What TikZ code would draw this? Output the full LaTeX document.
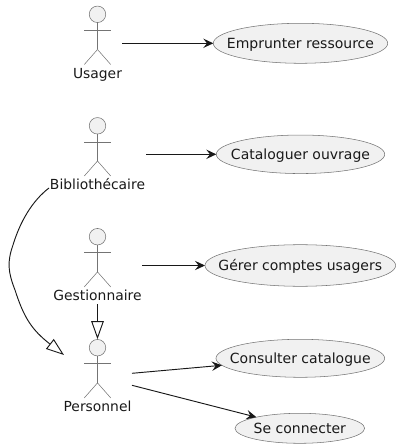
\documentclass[tikz,border=0pt]{standalone}
\usepackage{fontspec}
\setmainfont{DejaVu Sans}
\usetikzlibrary{shapes.geometric,arrows.meta}
\definecolor{ufill}{HTML}{F1F1F1}
\definecolor{uline}{HTML}{181818}
\tikzset{
  x=0.75pt,y=-0.75pt,
  usecase/.style={ellipse,draw=uline!60,line width=0.4pt,fill=ufill,inner sep=0pt,outer sep=0pt,font=\fontsize{10.5pt}{12pt}\selectfont,text=black!90},
  actorhead/.style={circle,draw=uline!60,line width=0.4pt,fill=ufill,inner sep=0pt,minimum size=12.4pt},
  actorline/.style={draw=uline!60,line width=0.4pt},
  actorlabel/.style={inner sep=0pt,font=\fontsize{10.4pt}{12pt}\selectfont,text=black!90,anchor=center,text height=8pt,text depth=2.5pt},
  assoc/.style={draw=uline,line width=0.7pt,-{Stealth[length=7.5pt,width=7pt,inset=2.8pt]}},
  general/.style={draw=uline,line width=0.7pt,-{Triangle[open,length=13.5pt,width=9.4pt,fill=white]}},
}
\newcommand{\uctext}[1]{\smash{\raisebox{-3.6pt}{\makebox[0pt]{#1}}}}
\newcommand{\umlactor}[3]{% name, head y, label
  \node[actorhead] (#1head) at (97.5,#2) {};
  \coordinate (#1hip) at (97.5,#2+35.2);
  \draw[actorline] (#1head.south) -- (#1hip);
  \draw[actorline] (84.3,#2+16) -- (110.7,#2+16);
  \draw[actorline] (84.3,#2+50.2) -- (#1hip) -- (110.7,#2+50.2);
  \node[actorlabel] (#1label) at (97.5,#2+60.4) {#3};
}
\begin{document}
\begin{tikzpicture}
\useasboundingbox (0,0) rectangle (400,448);
\umlactor{usager}{14.3}{Usager}
\umlactor{biblio}{125.8}{Bibliothécaire}
\umlactor{gest}{236.7}{Gestionnaire}
\umlactor{pers}{347.7}{Personnel}
\node[usecase,minimum width=130.8pt,minimum height=30pt] (emprunter) at (300.5,43.3) {\uctext{Emprunter ressource}};
\node[usecase,minimum width=126.3pt,minimum height=28.9pt] (cataloguer) at (300.5,154.3) {\uctext{Cataloguer ouvrage}};
\node[usecase,minimum width=143pt,minimum height=31.2pt] (gerer) at (300.3,265.5) {\uctext{Gérer comptes usagers}};
\node[usecase,minimum width=126.5pt,minimum height=28.5pt] (consulter) at (300.3,358.3) {\uctext{Consulter catalogue}};
\node[usecase,minimum width=97.2pt,minimum height=22.5pt] (connecter) at (299.8,428.3) {\uctext{Se connecter}};
\coordinate (usagerout) at (122,43.3);
\coordinate (biblioout) at (146,154.3);
\coordinate (gestout) at (142,265.5);
\coordinate (persoutA) at (132,373.3);
\coordinate (persoutB) at (132,385.3);
\coordinate (gentip) at (64,355);
\coordinate (gentop) at (97.5,304);
\coordinate (curvestart) at (49,188);
\draw[assoc] (usagerout) -- (emprunter);
\draw[assoc] (biblioout) -- (cataloguer);
\draw[assoc] (gestout) -- (gerer);
\draw[assoc] (persoutA) -- (consulter);
\draw[assoc] (persoutB) -- (connecter);
\draw[general] (gentop) -- (pershead.north);
\draw[general] (curvestart) .. controls (32,201) and (20,222) .. (13,245)
  .. controls (7,262) and (8,272) .. (15,290)
  .. controls (24,318) and (32,330) .. (gentip);
\end{tikzpicture}
\end{document}
